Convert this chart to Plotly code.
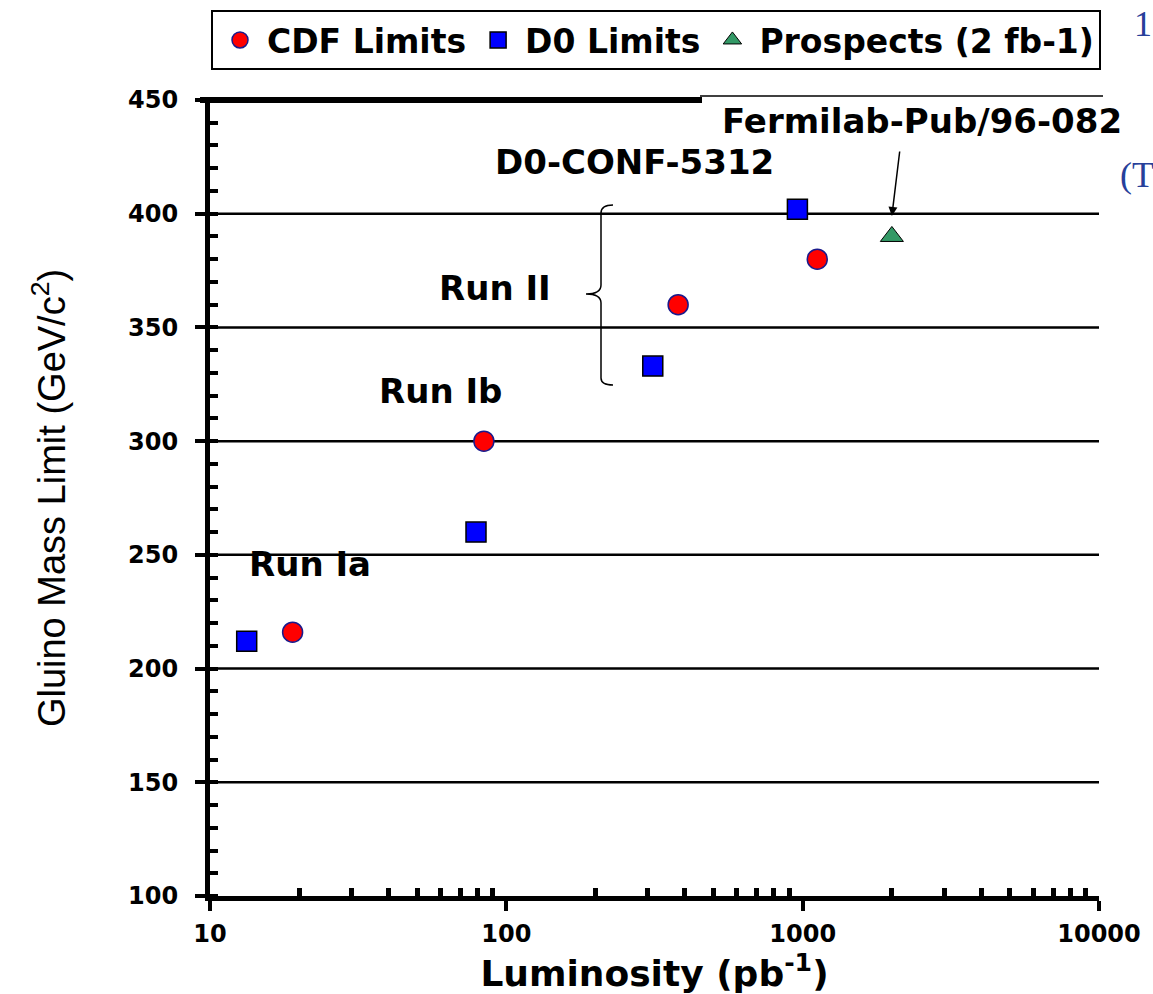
import math
import plotly.graph_objects as go

# ---------------- data ----------------
cdf_lumi = [19, 84, 380, 1120]
cdf_mass = [216, 300, 360, 380]
d0_lumi = [13.3, 79, 312, 960]
d0_mass = [212, 260, 333, 402]
prosp_lumi = [2000]
prosp_mass = [390]
x_tickvals = [10, 100, 1000, 10000]
x_ticktext = ["10", "100", "1000", "10000"]
y_tickvals = [100, 150, 200, 250, 300, 350, 400, 450]
x_minor = [20, 30, 40, 50, 60, 70, 80, 90, 200, 300, 400, 500, 600, 700, 800, 900,
           2000, 3000, 4000, 5000, 6000, 7000, 8000, 9000]
grid_y = [150, 200, 250, 300, 350, 400]

# ---------------- layout helpers ----------------
W, H = 1153, 994
L, R, T, B = 210, 1099, 100, 896


def px(xp):
    return (xp - L) / (R - L)


def py(yp):
    return (B - yp) / (B - T)


SANS = "Liberation Sans, Arial, sans-serif"
WIDE = "DejaVu Sans, Verdana, sans-serif"

fig = go.Figure()
fig.add_trace(go.Scatter(
    x=cdf_lumi, y=cdf_mass, mode="markers", name="CDF Limits",
    marker=dict(symbol="circle", size=20, color="#ff0000",
                line=dict(color="#1a1a8c", width=1.5)),
))
fig.add_trace(go.Scatter(
    x=d0_lumi, y=d0_mass, mode="markers", name="D0 Limits",
    marker=dict(symbol="square", size=20, color="#0000ff",
                line=dict(color="#000000", width=1.5)),
))
fig.add_trace(go.Scatter(
    x=prosp_lumi, y=prosp_mass, mode="markers", name="Prospects (2 fb-1)",
    marker=dict(symbol="triangle-up", size=20, color="#339966",
                line=dict(color="#000000", width=1)),
))

shapes = []
# horizontal grid lines
for gy in grid_y:
    shapes.append(dict(type="line", xref="paper", yref="y", x0=0, x1=1, y0=gy, y1=gy,
                       line=dict(color="black", width=2.5), layer="below"))
# vertical grid lines (positions are styling, in log units)
shapes.append(dict(type="line", xref="x", yref="y", x0=math.log10(100), x1=math.log10(100),
                   y0=100, y1=450, line=dict(color="black", width=3.5), layer="below"))
shapes.append(dict(type="line", xref="x", yref="y", x0=math.log10(1000), x1=math.log10(1000),
                   y0=100, y1=410, line=dict(color="black", width=3.5), layer="below"))
shapes.append(dict(type="line", xref="x", yref="y", x0=math.log10(10000), x1=math.log10(10000),
                   y0=100, y1=429, line=dict(color="black", width=4), layer="below"))
# top border: thick left part, thin right part
shapes.append(dict(type="line", xref="paper", yref="paper", x0=px(200), x1=px(702), y0=1, y1=1,
                   line=dict(color="black", width=6)))
shapes.append(dict(type="line", xref="paper", yref="paper", x0=px(700), x1=px(1103),
                   y0=py(96), y1=py(96), line=dict(color="black", width=1.5)))
# curly brace for Run II
brace = ("M {a},{b} Q {c},{b} {c},{d} L {c},{e} Q {c},{f} {g},{f} Q {c},{f} {c},{h} "
         "L {c},{i} Q {c},{j} {a},{j}").format(
    a=px(613), b=py(205), c=px(601), d=py(213), e=py(285), f=py(294), g=px(586),
    h=py(303), i=py(378), j=py(385))
shapes.append(dict(type="path", xref="paper", yref="paper", path=brace,
                   line=dict(color="black", width=1.5)))

annotations = []


def label(text, xc, yc, size=34, color="black", family=WIDE, bold=True, xanchor="center"):
    t = "<b>%s</b>" % text if bold else text
    annotations.append(dict(text=t, xref="paper", yref="paper", x=px(xc), y=py(yc),
                            xanchor=xanchor, yanchor="middle", showarrow=False,
                            font=dict(family=family, size=size, color=color)))


label("Fermilab-Pub/96-082", 922, 121)
label("D0-CONF-5312", 634, 162)
label("Run II", 495, 288)
label("Run Ib", 440, 391)
label("Run Ia", 310, 564)
label("(T", 1118, 175, size=36, color="#27409a", family="Liberation Serif, serif",
      bold=False, xanchor="left")
label("1", 1132, 24, size=36, color="#27409a", family="Liberation Serif, serif",
      bold=False, xanchor="left")
# arrow toward prospects point
annotations.append(dict(x=math.log10(prosp_lumi[0]), y=399, xref="x", yref="y", text="",
                        showarrow=True, arrowhead=2, arrowsize=1.2, arrowwidth=1.5,
                        arrowcolor="black", ax=8, ay=-66))

fig.update_layout(
    width=W, height=H,
    margin=dict(l=L, r=W - R, t=T, b=H - B, pad=0, autoexpand=False),
    paper_bgcolor="white", plot_bgcolor="white",
    font=dict(family=SANS, color="black"),
    showlegend=True,
    legend=dict(orientation="h", x=px(656), y=py(10), xanchor="center", yanchor="top",
                bordercolor="black", borderwidth=2, bgcolor="white",
                font=dict(family=WIDE, size=33, color="black", weight="bold"),
                itemsizing="trace", tracegroupgap=0, itemwidth=44,
                valign="middle"),
    shapes=shapes,
    annotations=annotations,
    xaxis=dict(
        type="log", range=[1, 4],
        tickvals=x_tickvals, ticktext=x_ticktext,
        ticks="outside", ticklen=10, tickwidth=4, tickcolor="black",
        showline=True, linecolor="black", linewidth=5,
        showgrid=False, zeroline=False, automargin=False,
        tickfont=dict(family=WIDE, size=24, color="black", weight="bold"),
        ticklabelstandoff=2,
        minor=dict(tickvals=x_minor, ticks="inside", ticklen=8, tickwidth=5,
                   tickcolor="black", showgrid=False),
        title=dict(text="<b>Luminosity (pb<sup>-1</sup>)</b>", standoff=4,
                   font=dict(family=WIDE, size=36, color="black")),
    ),
    yaxis=dict(
        range=[100, 450], tickvals=y_tickvals,
        ticks="outside", ticklen=10, tickwidth=4, tickcolor="black",
        showline=True, linecolor="black", linewidth=5,
        showgrid=False, zeroline=False, automargin=False,
        tickfont=dict(family=WIDE, size=24, color="black", weight="bold"),
        ticklabelstandoff=12,
        minor=dict(dtick=10, ticks="inside", ticklen=8, tickwidth=4,
                   tickcolor="black", showgrid=False),
        title=dict(text="Gluino Mass Limit (GeV/c<sup>2</sup>)", standoff=52,
                   font=dict(family=SANS, size=38, color="black")),
    ),
)
for tr in fig.data:
    tr.update(cliponaxis=False)

fig.write_html("out.html")
